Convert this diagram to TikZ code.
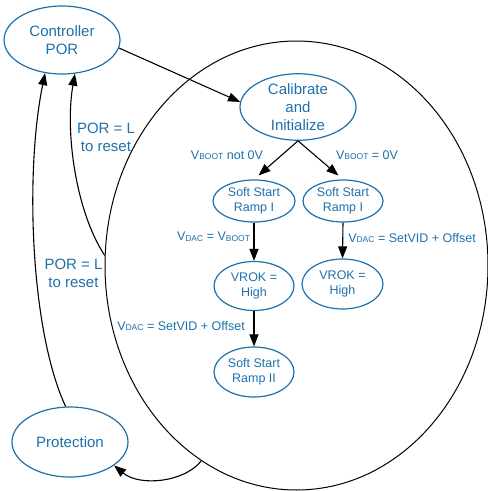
\documentclass[tikz,border=0pt]{standalone}
\usepackage{fontspec}
\setmainfont{Liberation Sans}
\usetikzlibrary{shapes.geometric,arrows.meta}
\definecolor{tiblue}{RGB}{30,112,170}
\newcommand{\lowsub}[1]{\raisebox{-0.6pt}{\fontsize{8.5}{8.5}\selectfont #1}}
\tikzset{
  state/.style={ellipse, draw=tiblue, line width=1.2pt, text=tiblue, inner sep=0pt, align=center},
  bigtxt/.style={font=\fontsize{15}{18}\selectfont},
  smalltxt/.style={font=\fontsize{12.5}{14.5}\selectfont},
  lbl/.style={text=tiblue, inner sep=0pt, align=center},
  flow/.style={-{Triangle[length=12pt,width=9pt]}, line width=1.1pt},
}
\begin{document}
\begin{tikzpicture}[x=1pt,y=-1pt]
    \useasboundingbox (0,0) rectangle (488,491);

    % Ellisse grande
    \node[ellipse, draw, line width=1pt, minimum width=383pt, minimum height=449pt, inner sep=0pt] (startup) at (296.5,265.5) {};

    % Stati
    \node[state, bigtxt, minimum width=116pt, minimum height=68pt] (por) at (62,40) {Controller\\POR};
    \node[state, bigtxt, minimum width=116pt, minimum height=66pt] (cal) at (298,107) {Calibrate\\and\\Initialize};
    \node[state, smalltxt, minimum width=82pt, minimum height=42pt] (ssl) at (254,201) {Soft Start\\Ramp I};
    \node[state, smalltxt, minimum width=80pt, minimum height=42pt] (ssr) at (343,201) {Soft Start\\Ramp I};
    \node[state, smalltxt, minimum width=80pt, minimum height=49pt] (vrl) at (254,286) {VROK =\\High};
    \node[state, smalltxt, minimum width=81pt, minimum height=50pt] (vrr) at (342.5,284) {VROK =\\High};
    \node[state, smalltxt, minimum width=80pt, minimum height=50pt] (ss2) at (254,372) {Soft Start\\Ramp II};
    \node[state, bigtxt, minimum width=116pt, minimum height=70pt] (prot) at (70,442) {Protection};

    % Transizioni
    \draw[flow] (por.352) -- (cal.175);
    \draw[flow, shorten >=6pt] (cal.south) -- (ssl.north);
    \draw[flow, shorten >=6pt] (cal.south) -- (ssr.north);
    \draw[flow] (ssl.south) -- (vrl.north);
    \draw[flow] (ssr.south) -- (vrr.north);
    \draw[flow] (vrl.south) -- (ss2.north);

    % Ritorni al reset
    \draw[flow] (prot.97) .. controls (30,330) and (25,170) .. (por.243);
    \draw[flow] (startup.177) .. controls (75,210) and (65,130) .. (por.291);
    \draw[flow] (startup.244.6) .. controls (185,482) and (140,487) .. (prot.332);

    % Etichette
    \node[lbl, bigtxt] (rst1) at (106,137) {POR = L\\to reset};
    \node[lbl, bigtxt] (rst2) at (73.5,273) {POR = L\\to reset};
    \node[lbl, smalltxt] (vb1) at (227,155) {V\lowsub{BOOT} not 0V};
    \node[lbl, smalltxt] (vb2) at (367,155) {V\lowsub{BOOT} = 0V};
    \node[lbl, smalltxt] (vd1) at (213.5,237) {V\lowsub{DAC} = V\lowsub{BOOT}};
    \node[lbl, smalltxt] (vd2) at (412,238) {V\lowsub{DAC} = SetVID + Offset};
    \node[lbl, smalltxt] (vd3) at (181,326) {V\lowsub{DAC} = SetVID + Offset};

\end{tikzpicture}
\end{document}
